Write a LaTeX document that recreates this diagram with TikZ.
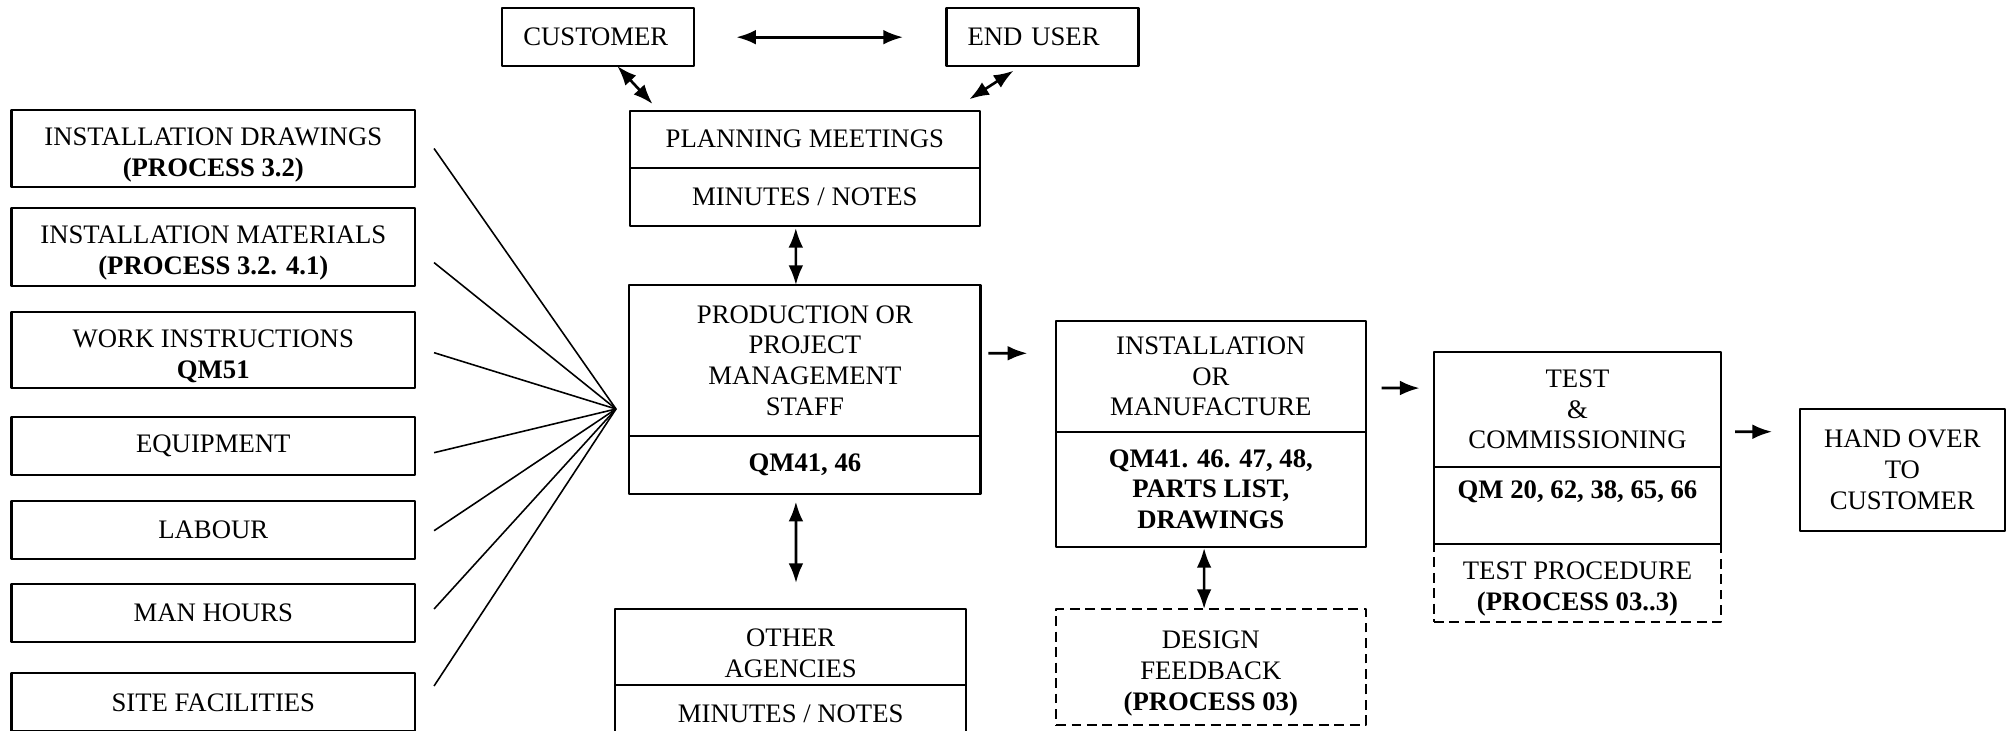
\documentclass[tikz,border=0pt]{standalone}
\usepackage{fontspec}
\setmainfont{Liberation Serif}
\usetikzlibrary{arrows.meta,positioning}
\newcommand\dnstrut{\rule{0pt}{8.6pt}}
\begin{document}
\begin{tikzpicture}[x=1cm, y=-1cm, line join=round, >={Latex[length=5.6pt,width=4.2pt]},
	font=\fontsize{7.6}{8.75}\selectfont,
	box/.style={draw, line width=0.6pt, rectangle, align=center, inner sep=0pt, outer sep=0pt},
	dbox/.style={box, dash pattern=on 2.8pt off 1.6pt},
	lbox/.style={box, minimum width=4.035cm},
	topbox/.style={box, minimum width=1.92cm, minimum height=0.577cm, text width=1.5cm, align=left},
	link/.style={<->, line width=0.75pt},
	go/.style={->, line width=0.75pt},
	fan/.style={line width=0.45pt}]
	\def\W{20.09}
	\def\H{7.31}
	\useasboundingbox (0,0) rectangle (\W,\H);
	\clip (0,0) rectangle (\W,\H);
	% Resources on the left
	\node[lbox, minimum height=0.77cm] (drw) at (2.133,1.485) {\dnstrut INSTALLATION DRAWINGS\\\textbf{(PROCESS 3.2)}};
	\node[lbox, minimum height=0.78cm] (mat) at (2.133,2.47) {\dnstrut INSTALLATION MATERIALS\\\textbf{(PROCESS 3.2. 4.1)}};
	\node[lbox, minimum height=0.766cm] (wrk) at (2.133,3.5) {\dnstrut WORK INSTRUCTIONS\\\textbf{QM51}};
	\node[lbox, minimum height=0.58cm] (eqp) at (2.133,4.459) {EQUIPMENT};
	\node[lbox, minimum height=0.58cm] (lab) at (2.133,5.297) {LABOUR};
	\node[lbox, minimum height=0.58cm] (man) at (2.133,6.13) {MAN HOURS};
	\node[lbox, minimum height=0.58cm] (sit) at (2.133,7.023) {SITE FACILITIES};
	\coordinate (hub) at (6.16,4.09);
	\foreach \n/\d in {drw/0, mat/0.156, wrk/0.027, eqp/0.068, lab/0.01, man/-0.04, sit/-0.163}
	\draw[fan] ([shift={(0.19,\d)}]\n.east) -- (hub);
	% Centre column
	\node[topbox] (cust) at (5.983,0.372) {CUSTOMER};
	\node[topbox] (user) at (10.425,0.372) {END USER};
	\node[box, minimum width=3.505cm, minimum height=0.57cm] (planT) at (8.048,1.392) {PLANNING MEETINGS};
	\node[box, minimum width=3.505cm, minimum height=0.58cm, below=0pt of planT] (planB) {MINUTES / NOTES};
	\node[box, minimum width=3.512cm, minimum height=1.51cm] (prodT) at (8.049,3.605) {PRODUCTION OR\\PROJECT\\MANAGEMENT\\STAFF};
	\node[box, minimum width=3.512cm, minimum height=0.58cm, below=0pt of prodT] (prodB) {\textbf{QM41, 46}};
	\node[box, minimum width=3.506cm, minimum height=0.76cm] (othT) at (7.907,6.47) {\dnstrut OTHER\\AGENCIES};
	\node[box, minimum width=3.506cm, minimum height=0.58cm, below=0pt of othT] (othB) {MINUTES / NOTES};
	% Installation, test, hand over
	\node[box, minimum width=3.095cm, minimum height=1.107cm] (insT) at (12.108,3.764) {INSTALLATION\\OR\\MANUFACTURE};
	\node[box, minimum width=3.095cm, minimum height=1.15cm, below=0pt of insT] (insB) {\textbf{QM41. 46. 47, 48,}\\\textbf{PARTS LIST,}\\\textbf{DRAWINGS}};
	\node[dbox, minimum width=3.095cm, minimum height=1.16cm] (dsgn) at (12.108,6.67) {\dnstrut DESIGN\\FEEDBACK\\\textbf{(PROCESS 03)}};
	\node[box, minimum width=2.87cm, minimum height=1.147cm] (tstT) at (15.775,4.094) {TEST\\\&\\COMMISSIONING};
	\node[box, minimum width=2.87cm, minimum height=0.773cm, below=0pt of tstT] (tstB) {\textbf{QM 20, 62, 38, 65, 66}\\\mbox{}};
	\node[dbox, minimum width=2.87cm, minimum height=0.777cm, below=0pt of tstB] (proc) {\dnstrut TEST PROCEDURE\\\textbf{(PROCESS 03..3)}};
	\node[box, minimum width=2.045cm, minimum height=1.217cm] (hand) at (19.023,4.699) {HAND OVER\\TO\\CUSTOMER};
	% Arrows
	\draw[link] ([xshift=0.42cm]cust.east) -- ([xshift=-0.435cm]user.west);
	\draw[link] ([xshift=0.19cm]cust.south) -- ([shift={(0.23,-0.067)}]planT.north west);
	\draw[link] ([shift={(-0.29,0.047)}]user.south) -- ([shift={(-0.107,-0.114)}]planT.north east);
	\draw[link] ([shift={(-0.09,0.023)}]planB.south) -- ([xshift=-0.09cm]prodT.north);
	\draw[link] ([shift={(-0.09,0.077)}]prodB.south) -- ([shift={(0.053,-0.26)}]othT.north);
	\draw[go] ([shift={(0.078,-0.072)}]prodT.east) -- ([shift={(-0.287,-0.231)}]insT.west);
	\draw[link] ([shift={(-0.067,0.013)}]insB.south) -- ([xshift=-0.067cm]dsgn.north);
	\draw[go] ([shift={(0.161,0.116)}]insT.east) -- ([shift={(-0.144,-0.213)}]tstT.west);
	\draw[go] ([shift={(0.14,0.224)}]tstT.east) -- ([shift={(-0.28,-0.382)}]hand.west);
\end{tikzpicture}
\end{document}
